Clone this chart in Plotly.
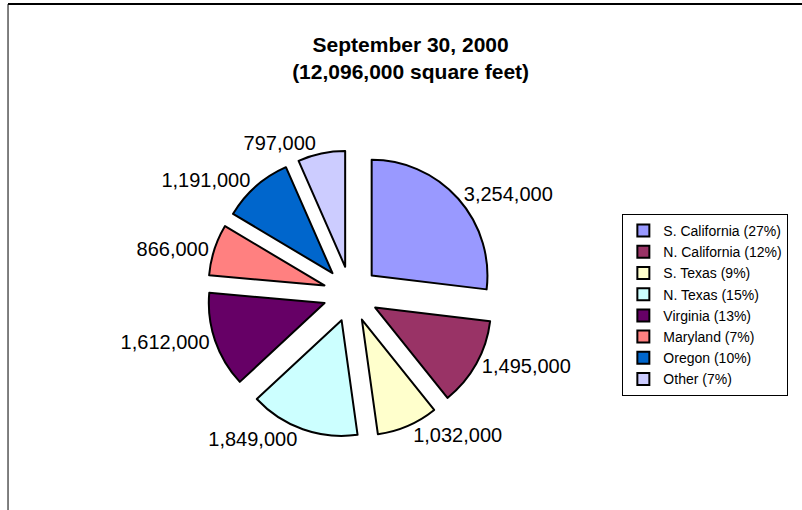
import plotly.graph_objects as go

regions = ["S. California", "N. California", "S. Texas", "N. Texas",
           "Virginia", "Maryland", "Oregon", "Other"]
square_feet = [3254000, 1495000, 1032000, 1849000, 1612000, 866000, 1191000, 797000]
colors = ["#9999FF", "#993366", "#FFFFCC", "#CCFFFF",
          "#660066", "#FF8080", "#0066CC", "#CCCCFF"]

total = sum(square_feet)
legend_labels = [f"{r} ({round(v / total * 100)}%)" for r, v in zip(regions, square_feet)]

fig = go.Figure(go.Pie(
    labels=legend_labels,
    values=square_feet,
    sort=False,
    direction="clockwise",
    rotation=0,
    pull=[0.24] * len(square_feet),
    marker=dict(colors=colors, line=dict(color="#000000", width=2)),
    texttemplate="%{value:,.0f}",
    textposition="outside",
    textfont=dict(family="Liberation Sans, Arial", size=20, color="#000000"),
    domain=dict(x=[0.258, 0.617], y=[0.142, 0.705]),
    hoverinfo="value",
))

fig.update_layout(
    width=802, height=510,
    margin=dict(l=0, r=0, t=0, b=0),
    paper_bgcolor="#FFFFFF",
    font=dict(family="Liberation Sans, Arial", color="#000000"),
    title=dict(
        text="<b>September 30, 2000<br>(12,096,000 square feet)</b>",
        x=0.512, xanchor="center", y=0.898, yanchor="middle",
        font=dict(size=21, family="Liberation Sans, Arial", color="#000000"),
    ),
    legend=dict(
        x=0.776, xanchor="left", y=0.402, yanchor="middle",
        bgcolor="#FFFFFF", bordercolor="#000000", borderwidth=1,
        itemwidth=30,
        font=dict(size=14, family="Liberation Sans, Arial", color="#000000"),
    ),
    shapes=[
        dict(type="line", xref="paper", yref="paper", x0=0.01, x1=1.0, y0=0.992, y1=0.992,
             line=dict(color="#000000", width=2)),
        dict(type="line", xref="paper", yref="paper", x0=0.01, x1=0.01, y0=0.0, y1=0.992,
             line=dict(color="#000000", width=1)),
    ],
)

fig.write_html("out.html", config={"displayModeBar": False},
               post_script="document.body.style.margin='0';")
